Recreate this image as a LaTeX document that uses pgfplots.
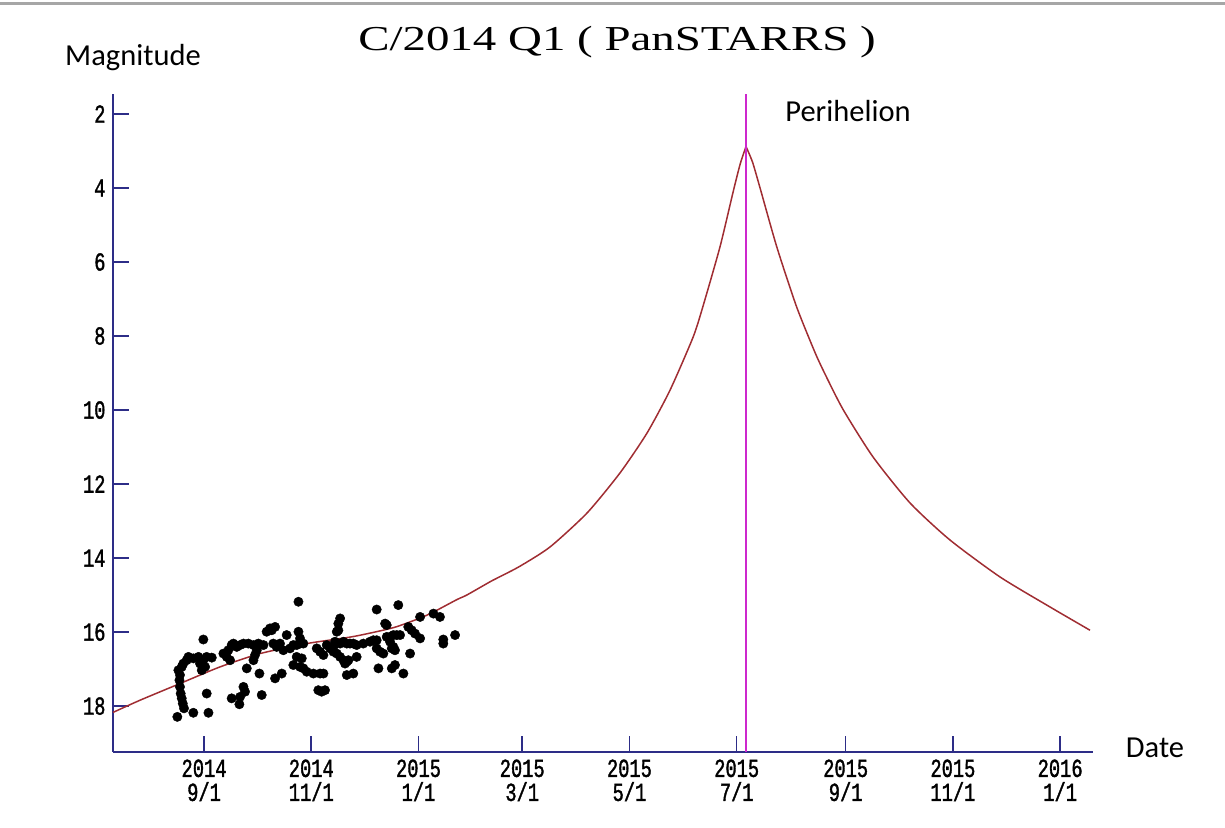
\documentclass[border=0pt]{standalone}
\usepackage{fontspec}
\usepackage{pgfplots}
\pgfplotsset{compat=1.18}
\setmainfont{Carlito}
\newfontfamily\titlefont{Liberation Serif}
\newfontfamily\tickfont[FakeStretch=0.72,FakeBold=1.4]{Liberation Mono}
\definecolor{axisnavy}{RGB}{45,45,135}
\definecolor{curvered}{RGB}{160,45,50}
\definecolor{perimag}{RGB}{205,40,205}

\begin{document}
\begin{tikzpicture}[x=1pt,y=1pt]
\path[use as bounding box] (0,0) rectangle (1225,827);
\draw[gray!70, line width=3pt] (0,823) -- (1225,823);
\begin{axis}[
    at={(113pt,75pt)}, anchor=south west,
    scale only axis, width=980pt, height=658pt,
    xmin=-51.8, xmax=505.7, ymin=1.46, ymax=19.24,
    y dir=reverse,
    axis x line=bottom, axis y line=left,
    axis line style={-, axisnavy, line width=2pt},
    tick style={axisnavy, line width=1.6pt},
    tick align=inside, major tick length=16pt,
    ytick={2,4,...,18},
    xtick={0,61,122,181,242,303,365,426,487},
    xticklabels={{2014\\9/1},{2014\\11/1},{2015\\1/1},{2015\\3/1},{2015\\5/1},{2015\\7/1},{2015\\9/1},{2015\\11/1},{2016\\1/1}},
    ticklabel style={font=\fontsize{26}{24}\tickfont},
    xticklabel style={align=center, yshift=-4pt},
    yticklabel style={xshift=-4pt},
    /pgf/number format/assume math mode=true,
    clip=false,
]
% fitted light curve, rising branch
\addplot[curvered, line width=1.5pt, smooth, tension=0.4] coordinates {
(-51.8,18.17) (-36.4,17.84) (-13.7,17.39) (9.1,16.94) (31.9,16.58)
(58.4,16.31) (84.9,16.12) (107.7,15.88) (122.9,15.62) (130.4,15.46)
(143.9,15.12) (149.4,15.00) (162.7,14.64) (168.4,14.50) (179.7,14.22)
(196.8,13.70) (217.9,12.78) (236.6,11.70) (252.0,10.62) (265.1,9.46)
(278.2,8.03) (283.8,7.20) (293.5,5.59) (301.0,4.10) (305.0,3.35)
(308.3,2.88)
};
% fading branch
\addplot[curvered, line width=1.5pt, smooth, tension=0.4] coordinates {
(308.3,2.88) (312.0,3.30) (316.3,4.00) (325.8,5.59) (337.0,7.20) (347.6,8.45)
(354.0,9.10) (363.7,10.0) (380.6,11.27) (401.6,12.51) (424.3,13.51)
(452.8,14.51) (481.2,15.32) (504.0,15.95)
};
\addplot[perimag, line width=1.8pt] coordinates {(308.3,1.46) (308.3,19.24)};
\addplot[only marks, mark=*, mark size=4.7pt, black] coordinates {
(-14.6,17.03) (-13.7,17.16) (-14.0,17.30) (-12.7,16.94) (-11.8,16.85)
(-13.7,17.48) (-13.3,17.66) (-12.7,17.79) (-12.1,17.93) (-11.4,18.06)
(-15.2,18.29) (-9.9,16.76) (-8.9,16.67)
(-6.1,18.18) (2.5,18.18) (1.5,17.66)
(-6.1,16.71) (-3.2,16.67) (-0.4,16.76) (1.5,16.67) (4.4,16.69) (-0.4,16.20)
(-2.3,16.85) (0.6,16.94) (-1.3,17.03)
(11.0,16.58) (12.9,16.67) (14.8,16.76) (13.8,16.49) (15.7,16.35) (16.7,16.31)
(18.6,16.40) (20.5,16.35) (22.4,16.31) (25.2,16.31) (28.1,16.35) (30.9,16.31) (33.8,16.35)
(24.3,16.98) (22.4,17.48) (23.3,17.61) (20.5,17.75) (15.7,17.79) (20.1,17.95)
(32.8,17.70) (31.5,17.12)
(28.1,16.76) (29.0,16.62) (30.0,16.49)
(35.6,15.99) (37.5,15.90) (40.4,15.86) (38.5,15.95)
(39.4,16.31) (41.3,16.40) (43.2,16.31) (45.1,16.49) (47.0,16.08) (48.9,16.44)
(50.8,16.35) (52.7,16.35) (54.6,16.31) (53.7,15.99) (54.6,16.17) (56.5,16.31)
(52.7,16.67) (54.6,16.94)
(53.7,15.18)
(40.4,17.25) (44.2,17.12) (50.8,16.89) (55.6,16.71)
(56.5,16.98) (58.4,17.07) (62.2,17.12) (66.0,17.12) (67.9,17.12)
(65.0,17.57) (66.9,17.61) (68.8,17.57)
(64.1,16.44) (66.0,16.53) (67.9,16.62)
(69.8,16.35) (71.7,16.44) (73.6,16.53) (75.5,16.58) (77.4,16.67) (79.3,16.76) (81.2,16.80)
(73.6,16.40) (74.5,16.26) (75.5,15.99) (76.4,15.77) (77.4,15.63) (76.4,15.95)
(77.4,16.31) (79.3,16.26) (81.2,16.31) (83.0,16.31) (84.9,16.31) (86.8,16.35)
(90.6,16.31) (94.4,16.26) (96.3,16.22) (98.2,16.22)
(81.2,17.16) (84.9,17.12) (86.8,16.67) (80.2,16.85) (82.1,16.76)
(98.2,15.39) (103.0,15.77) (103.9,15.81)
(98.2,16.44) (100.1,16.53) (102.0,16.58) (103.9,16.13) (105.8,16.13) (107.7,16.08)
(109.6,16.08) (111.5,16.08) (107.7,16.40) (105.8,16.26) (106.8,16.44) (108.6,16.49)
(99.2,16.98) (106.8,16.98) (108.6,16.89) (113.4,17.12)
(110.5,15.27)
(116.2,15.86) (118.1,15.95) (120.0,16.04) (122.9,16.17) (117.2,16.58)
(122.9,15.59) (130.5,15.50) (134.2,15.59) (136.1,16.20) (136.1,16.31) (142.8,16.08)
};
\end{axis}
\node[font=\titlefont\fontsize{35}{35}\selectfont, xscale=1.34, anchor=base] at (617,776) {C/2014 Q1 ( PanSTARRS )};
\node[font=\fontsize{30.5}{30}\selectfont] at (133,769) {Magnitude};
\node[font=\fontsize{30.5}{30}\selectfont] at (848,716) {Perihelion};
\node[font=\fontsize{30.5}{30}\selectfont] at (1155,79) {Date};
\end{tikzpicture}
\end{document}
